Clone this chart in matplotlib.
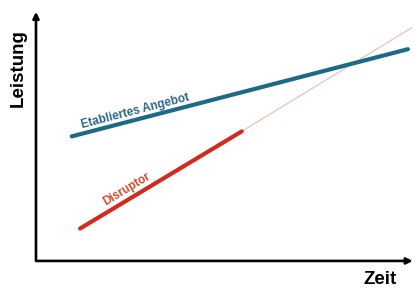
import numpy as np
import matplotlib.pyplot as plt

# Werte (Zeit 0..100, Leistung 0..100)
etabliert_x = [9.5, 98.7]
etabliert_y = [50.0, 85.0]
disruptor_x = [11.7, 54.6]
disruptor_y = [13.0, 52.0]
prognose_x = [54.6, 99.7]
prognose_y = [52.0, 93.6]

plt.rcParams['font.family'] = ['Liberation Sans', 'DejaVu Sans']

fig = plt.figure(figsize=(4.15, 2.88), dpi=100)
ax = fig.add_axes([0.0867, 0.094, 0.908, 0.865])
ax.set_xlim(0, 100)
ax.set_ylim(0, 100)
for s in ax.spines.values():
    s.set_visible(False)
ax.set_xticks([])
ax.set_yticks([])

# Achsenpfeile
arrow = dict(arrowstyle='-|>', lw=1.9, color='black', mutation_scale=9, shrinkA=0, shrinkB=0)
ax.annotate('', xy=(1, 0), xytext=(0, 0), xycoords='axes fraction', arrowprops=arrow)
ax.annotate('', xy=(0, 1), xytext=(0, 0), xycoords='axes fraction', arrowprops=arrow)

ax.plot(prognose_x, prognose_y, color='#ecc2b8', lw=0.9, solid_capstyle='round')
ax.plot(etabliert_x, etabliert_y, color='#1c6a84', lw=3.0, solid_capstyle='round')
ax.plot(disruptor_x, disruptor_y, color='#d42a1e', lw=3.0, solid_capstyle='round')

ax.text(26.3, 60.2, 'Etabliertes Angebot', rotation=14.5, color='#2c6689',
        fontsize=8.5, fontweight='bold', ha='center', va='center', rotation_mode='anchor')
ax.text(24.1, 28.9, 'Disruptor', rotation=31, color='#d6492a',
        fontsize=8.5, fontweight='bold', ha='center', va='center', rotation_mode='anchor')

fig.text(0.043, 0.764, 'Leistung', rotation=90, fontsize=13.5, fontweight='bold',
         ha='center', va='center')
fig.text(0.916, 0.031, 'Zeit', fontsize=13.5, fontweight='bold', ha='center', va='center')

fig.savefig('out.png', dpi=100, facecolor='white')
